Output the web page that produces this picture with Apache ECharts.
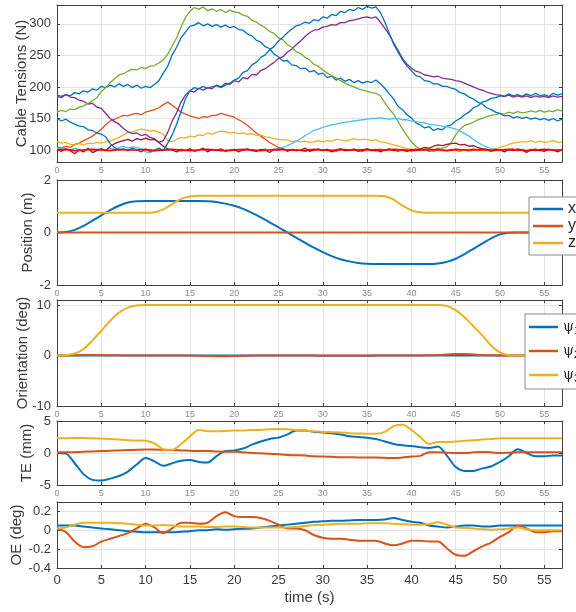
<!DOCTYPE html>
<html>
<head>
<meta charset="utf-8">
<script src="https://cdn.jsdelivr.net/npm/echarts@6/dist/echarts.min.js"></script>
<style>
  html, body { margin: 0; padding: 0; background: #fff; }
  #chart { width: 576px; height: 612px; }
</style>
</head>
<body>
<div id="chart"></div>
<script>
// ---- time bases ----
const TENSION_DT = 0.5;   // cable tension samples every 0.5 s
const POSE_DT = 1;        // pose / error samples every 1 s

// ---- axis ticks ----
const timeTicks = [0, 5, 10, 15, 20, 25, 30, 35, 40, 45, 50, 55];
const tensionTicks = [100, 150, 200, 250, 300];
const positionTicks = [-2, 0, 2];
const orientationTicks = [-10, 0, 10];
const teTicks = [-5, 0, 5];
const oeTicks = [-0.4, -0.2, 0, 0.2];

// ---- cable tensions (N), t = 0 .. 57 s step 0.5 s ----
const tension1 = [
  185,183,188,186,191,189,194,192,197,195,
  201,199,203,200,205,201,204,199,203,198,
  201,199,204,210,222,233,251,263,278,287,
  296,298,302,297,300,296,299,295,298,294,
  296,291,290,284,281,274,271,264,261,252,
  248,241,242,235,234,229,230,224,226,220,
  222,215,217,211,214,209,212,207,210,206,
  209,207,211,205,198,189,181,169,164,156,
  151,143,140,135,137,131,134,132,138,140,
  146,150,156,160,167,170,176,178,182,183,
  186,185,189,186,188,185,189,186,190,186,
  188,185,190,187,189];
const tension2 = [
  105,103,106,104,109,111,115,118,122,127,
  133,140,146,149,152,155,154,157,158,156,
  160,162,164,167,172,176,171,166,160,157,
  154,152,150,153,152,155,155,158,156,154,
  152,148,144,139,133,127,122,117,112,108,
  104,102,100,101,99,100,98,101,100,102,
  99,101,100,98,101,100,99,102,100,98,
  101,99,100,102,99,101,100,98,101,100,
  99,102,100,101,98,100,103,101,99,101,
  100,98,101,100,102,99,100,101,98,100,
  101,99,100,102,99,101,98,100,102,99,
  100,101,99,100,101];
const tension3 = [
  113,111,112,109,108,110,108,111,110,112,
  111,113,114,117,120,124,128,129,131,133,
  132,130,131,128,125,115,113,117,120,119,
  122,121,124,123,127,125,128,130,129,127,
  128,126,127,125,126,123,124,121,120,118,
  117,116,116,113,115,113,114,112,113,115,
  113,115,114,117,116,114,116,118,116,117,
  117,115,116,113,112,110,108,106,104,102,
  101,100,99,101,100,98,100,101,99,100,
  101,99,100,98,100,101,99,100,101,102,
  104,106,109,111,112,113,113,115,112,114,
  112,113,115,112,113];
const tension4 = [
  187,185,188,184,183,179,177,173,174,168,
  166,158,150,145,141,134,129,126,127,123,
  125,120,118,112,115,128,146,159,176,187,
  194,192,198,195,199,197,203,200,206,204,
  210,208,215,213,220,219,226,229,234,239,
  245,248,255,260,267,273,280,286,290,291,
  295,296,299,298,302,302,305,306,308,310,
  311,309,311,303,293,283,270,258,245,236,
  230,225,223,219,218,216,217,214,213,212,
  210,209,206,203,200,197,195,192,190,188,
  187,185,187,184,186,184,186,183,186,184,
  185,183,186,184,185];
const tension5 = [
  160,163,161,165,164,168,170,174,178,183,
  193,199,207,213,219,221,225,228,227,231,
  229,233,234,238,243,252,265,278,295,310,
  320,326,323,327,321,324,320,323,318,322,
  319,318,314,312,306,303,298,294,288,285,
  278,275,267,263,256,253,247,243,236,233,
  227,222,218,214,210,206,203,200,197,195,
  193,191,190,186,175,165,157,145,133,123,
  113,106,101,99,100,98,101,103,105,112,
  124,133,139,141,144,148,150,153,155,156,
  158,157,160,158,161,159,160,162,160,163,
  160,162,161,164,162];
const tension6 = [
  103,101,102,100,103,101,99,102,100,101,
  102,100,103,101,104,106,103,105,104,102,
  97,96,99,101,100,99,101,100,98,100,
  101,99,100,102,99,100,101,98,100,99,
  100,101,99,100,101,99,100,102,100,101,
  102,104,107,110,114,118,123,127,131,133,
  136,138,140,141,143,144,145,146,147,148,
  149,150,150,151,150,149,150,150,148,148,
  146,145,144,143,141,140,139,138,137,135,
  133,130,126,122,117,112,108,105,102,101,
  100,101,99,100,101,100,99,101,100,99,
  100,101,99,100,101];
const tension7 = [
  101,98,102,99,94,100,97,103,96,99,
  102,99,106,110,113,115,117,114,118,116,
  119,116,117,112,106,102,100,97,101,99,
  102,98,100,103,97,101,99,102,98,100,
  101,97,100,102,99,98,101,100,96,101,
  100,102,98,101,99,100,103,98,100,101,
  99,101,97,100,102,99,100,101,98,100,
  102,99,101,97,100,102,99,101,100,98,
  101,100,102,104,103,106,108,107,109,110,
  111,108,109,106,107,104,102,101,99,101,
  100,97,101,99,102,100,96,101,99,100,
  98,101,100,97,100];
const tension8 = [
  150,146,149,144,141,138,137,132,131,127,
  125,121,110,104,100,102,99,103,100,97,
  101,98,100,103,99,111,124,141,161,181,
  194,199,197,201,198,200,202,199,203,206,
  211,214,223,226,235,239,247,251,259,264,
  273,279,286,292,297,299,303,301,307,305,
  311,309,315,313,320,318,323,321,326,323,
  328,325,327,318,303,285,268,255,243,233,
  226,218,216,210,209,205,205,201,201,198,
  196,191,189,184,181,176,173,167,164,160,
  158,154,155,151,153,150,152,149,151,148,
  150,147,150,146,149];
// lower tension limit, t = 0 .. 57 s step 1 s
const tensionMin = [
  100,101,99,100,101,100,99,101,100,100,
  101,99,100,101,100,99,100,101,100,99,
  100,101,100,99,100,101,100,100,99,101,
  100,99,101,100,100,101,99,100,101,100,
  99,100,101,100,99,101,100,100,101,99,
  100,101,100,99,100,101,100,100];

// ---- position (m), t = 0 .. 57 s step 1 s ----
const posX = [
  0,0.02,0.1,0.25,0.45,0.65,0.85,1.02,1.14,1.19,
  1.2,1.2,1.2,1.2,1.2,1.2,1.2,1.19,1.16,1.1,
  1.02,0.9,0.75,0.58,0.39,0.2,0.0,-0.2,-0.39,-0.58,
  -0.75,-0.9,-1.02,-1.1,-1.16,-1.19,-1.2,-1.2,-1.2,-1.2,
  -1.2,-1.2,-1.2,-1.18,-1.12,-1.0,-0.82,-0.62,-0.42,-0.22,
  -0.07,-0.01,0,0,0,0,0,0];
const posY = [
  0,0,0,0,0,0,0,0,0,0,
  0,0,0,0,0,0,0,0,0,0,
  0,0,0,0,0,0,0,0,0,0,
  0,0,0,0,0,0,0,0,0,0,
  0,0,0,0,0,0,0,0,0,0,
  0,0,0,0,0,0,0,0];
const posZ = [
  0.75,0.75,0.75,0.75,0.75,0.75,0.75,0.75,0.75,0.75,
  0.75,0.77,0.88,1.08,1.28,1.37,1.4,1.4,1.4,1.4,
  1.4,1.4,1.4,1.4,1.4,1.4,1.4,1.4,1.4,1.4,
  1.4,1.4,1.4,1.4,1.4,1.4,1.4,1.38,1.25,1.02,
  0.85,0.77,0.75,0.75,0.75,0.75,0.75,0.75,0.75,0.75,
  0.75,0.75,0.75,0.75,0.75,0.75,0.75,0.75];

// ---- orientation (deg), t = 0 .. 57 s step 1 s ----
const psi1 = [
  0,0,0,0,0,0,0,0,0,0,
  0,0,0,0,0,0,0,0,0,0,
  0,0,0,0,0,0,0,0,0,0,
  -0.05,-0.05,-0.05,-0.05,-0.05,-0.05,0,0,0,0,
  0,0,0,0,0,0,0,0,0,0,
  0,0,0,0,0,0,0,0];
const psi2 = [
  0,0,0.05,0.1,0.1,0.1,0.05,0.05,0,0,
  0,0,0,0,0,0,-0.05,-0.1,-0.15,-0.15,
  -0.1,-0.05,0,0,0,0,0,0,0,0,
  0,0,0,0,0,0,0,0,0,0,
  0,0,0.05,0.1,0.2,0.3,0.3,0.2,0.1,0.05,
  0,0,0,0,0,0,0,0];
const psi3 = [
  0,0.05,0.4,1.3,3.0,4.9,6.9,8.5,9.5,9.9,
  10,10,10,10,10,10,10,10,10,10,
  10,10,10,10,10,10,10,10,10,10,
  10,10,10,10,10,10,10,10,10,10,
  10,10,10,10,9.8,9.0,7.6,5.8,4.0,2.0,
  0.6,0.05,0,0,0,0,0,0];

// ---- translational error (mm), t = 0 .. 57 s step 1 s ----
const teX = [
  0,-0.1,-1.6,-3.3,-4.2,-4.3,-4.0,-3.6,-2.9,-1.8,
  -0.8,-1.3,-2.0,-1.6,-1.2,-1.1,-1.4,-1.5,-0.5,0.3,
  0.4,0.7,1.3,1.8,2.2,2.4,2.9,3.5,3.5,3.3,
  3.2,3.1,2.9,2.6,2.5,2.4,2.2,1.8,1.4,1.2,
  1.1,0.9,0.8,1.0,-0.4,-2.2,-2.8,-2.8,-2.4,-2.1,
  -1.4,-0.5,0.6,0.0,-0.5,-0.5,-0.4,-0.4];
const teY = [
  0.1,0.1,0.15,0.2,0.25,0.3,0.35,0.4,0.45,0.5,
  0.55,0.55,0.5,0.45,0.4,0.35,0.3,0.3,0.25,0.2,
  0.2,0.1,0.0,-0.05,-0.1,-0.2,-0.3,-0.35,-0.4,-0.5,
  -0.55,-0.6,-0.65,-0.65,-0.7,-0.7,-0.7,-0.75,-0.8,-0.7,
  -0.55,-0.45,0.1,0.1,0.05,0.0,0.0,0.1,0.15,0.1,
  0.0,0.05,0.1,0.1,0.1,0.1,0.1,0.1];
const teZ = [
  2.3,2.3,2.35,2.35,2.3,2.25,2.2,2.1,2.0,1.95,
  1.9,1.5,0.6,0.5,1.4,2.6,3.6,3.4,3.4,3.45,
  3.5,3.5,3.6,3.6,3.7,3.75,3.7,3.6,3.5,3.4,
  3.3,3.25,3.2,3.1,3.05,3.0,3.0,3.3,4.2,4.4,
  3.6,2.5,1.4,1.7,1.7,1.8,1.9,2.0,2.1,2.2,
  2.3,2.3,2.3,2.3,2.3,2.3,2.3,2.3];

// ---- orientation error (deg), t = 0 .. 57 s step 1 s ----
const oe1 = [
  0.05,0.05,0.05,0.04,0.03,0.02,0.01,0.0,-0.01,-0.015,
  -0.02,-0.02,-0.02,-0.02,-0.015,-0.01,0.0,0.0,0.01,0.005,
  0.01,0.015,0.02,0.03,0.04,0.05,0.06,0.07,0.08,0.09,
  0.095,0.1,0.1,0.105,0.11,0.11,0.11,0.115,0.13,0.11,
  0.09,0.08,0.05,0.04,0.03,0.04,0.05,0.05,0.04,0.04,
  0.05,0.05,0.05,0.05,0.05,0.05,0.05,0.05];
const oe2 = [
  0.02,-0.02,-0.12,-0.18,-0.17,-0.12,-0.09,-0.06,-0.03,0.02,
  0.07,0.03,-0.03,0.02,0.08,0.08,0.07,0.08,0.15,0.19,
  0.15,0.14,0.14,0.13,0.1,0.06,0.02,0.02,0.0,-0.05,
  -0.08,-0.09,-0.09,-0.1,-0.11,-0.11,-0.11,-0.14,-0.16,-0.14,
  -0.11,-0.11,-0.12,-0.12,-0.19,-0.26,-0.27,-0.22,-0.17,-0.13,
  -0.07,-0.02,0.05,0.02,-0.02,-0.02,-0.01,-0.01];
const oe3 = [
  0.02,0.03,0.06,0.08,0.08,0.08,0.08,0.075,0.07,0.06,
  0.05,0.05,0.055,0.05,0.04,0.04,0.04,0.035,0.035,0.04,
  0.04,0.035,0.03,0.03,0.03,0.03,0.03,0.035,0.045,0.055,
  0.06,0.065,0.07,0.07,0.07,0.075,0.075,0.075,0.07,0.065,
  0.06,0.06,0.065,0.085,0.06,0.03,0.025,0.02,0.01,0.005,
  0.01,0.02,0.03,0.01,0.0,0.0,0.0,0.0];

// ---- styling ----
const FONT = '"Liberation Sans", Arial, Helvetica, sans-serif';
const AXIS_COLOR = '#404040';
const GRID_COLOR = '#e4e4e4';
const LABEL_COLOR = '#3a3a3a';
const SMALL_LABEL_COLOR = '#8c8c8c';
const COLORS = {
  blue: '#0072BD', orange: '#D95319', yellow: '#EDB120', purple: '#7E2F8E',
  green: '#77AC30', cyan: '#4DBEEE', maroon: '#A2142F', red: '#FF0000'
};

const panels = [
  { top: 5,   height: 157, min: 81,   max: 330, ticks: tensionTicks,     name: 'Cable Tensions (N)', nameGap: 28 },
  { top: 180, height: 105, min: -2,   max: 2,   ticks: positionTicks,    name: 'Position (m)',       nameGap: 22 },
  { top: 300, height: 106, min: -10,  max: 11,  ticks: orientationTicks, name: 'Orientation (deg)',  nameGap: 27 },
  { top: 421, height: 64,  min: -5,   max: 5,   ticks: teTicks,          name: 'TE (mm)',            nameGap: 23 },
  { top: 502, height: 66,  min: -0.4, max: 0.3, ticks: oeTicks,          name: 'OE (deg)',           nameGap: 33 }
];

const grid = [], xAxis = [], yAxis = [];
const axisLine = { show: true, onZero: false, lineStyle: { color: AXIS_COLOR, width: 1 } };
panels.forEach((p, i) => {
  const last = i === panels.length - 1;
  grid.push({ left: 57, right: 14, top: p.top, height: p.height, containLabel: false, outerBoundsMode: 'none' });
  xAxis.push({
    gridIndex: i, type: 'value', min: 0, max: 57, position: 'bottom',
    axisLine,
    axisTick: { show: true, inside: true, length: 3, customValues: timeTicks, lineStyle: { color: AXIS_COLOR } },
    axisLabel: {
      show: true, customValues: timeTicks, fontFamily: FONT,
      fontSize: last ? 13 : 9, color: last ? LABEL_COLOR : SMALL_LABEL_COLOR, margin: last ? 6 : 4
    },
    splitLine: { show: true, lineStyle: { color: GRID_COLOR, width: 1 } },
    name: last ? 'time (s)' : '', nameLocation: 'middle', nameGap: 22, nameMoveOverlap: false,
    nameTextStyle: { fontSize: 15, color: LABEL_COLOR, fontFamily: FONT }
  });
  xAxis.push({
    gridIndex: i, type: 'value', min: 0, max: 57, position: 'top',
    axisLine,
    axisTick: { show: true, inside: true, length: 3, customValues: timeTicks, lineStyle: { color: AXIS_COLOR } },
    axisLabel: { show: false }, splitLine: { show: false }
  });
  yAxis.push({
    gridIndex: i, type: 'value', min: p.min, max: p.max, position: 'left',
    axisLine,
    axisTick: { show: true, inside: true, length: 3, customValues: p.ticks, lineStyle: { color: AXIS_COLOR } },
    axisLabel: { show: true, customValues: p.ticks, fontFamily: FONT, fontSize: 13, color: LABEL_COLOR, margin: 6 },
    splitLine: { show: true, lineStyle: { color: GRID_COLOR, width: 1 } },
    name: p.name, nameLocation: 'middle', nameGap: p.nameGap, nameMoveOverlap: false,
    nameTextStyle: { fontSize: 15, color: LABEL_COLOR, fontFamily: FONT }
  });
  yAxis.push({
    gridIndex: i, type: 'value', min: p.min, max: p.max, position: 'right',
    axisLine,
    axisTick: { show: true, inside: true, length: 3, customValues: p.ticks, lineStyle: { color: AXIS_COLOR } },
    axisLabel: { show: false }, splitLine: { show: false }
  });
});

function line(name, color, values, dt, panel, width, smooth) {
  return {
    name, type: 'line', xAxisIndex: 2 * panel, yAxisIndex: 2 * panel,
    data: values.map((v, k) => [k * dt, v]),
    showSymbol: false, symbol: 'none', smooth: smooth || false,
    lineStyle: { color, width }, itemStyle: { color },
    silent: true, z: 3
  };
}

const series = [
  line('T1', COLORS.blue,   tension1, TENSION_DT, 0, 1.3),
  line('T2', COLORS.orange, tension2, TENSION_DT, 0, 1.3),
  line('T3', COLORS.yellow, tension3, TENSION_DT, 0, 1.3),
  line('T4', COLORS.purple, tension4, TENSION_DT, 0, 1.3),
  line('T5', COLORS.green,  tension5, TENSION_DT, 0, 1.3),
  line('T6', COLORS.cyan,   tension6, TENSION_DT, 0, 1.3),
  line('T7', COLORS.maroon, tension7, TENSION_DT, 0, 1.3),
  line('T8', COLORS.blue,   tension8, TENSION_DT, 0, 1.3),
  line('Tmin', COLORS.red,  tensionMin, POSE_DT, 0, 1.6),

  line('x', COLORS.blue,   posX, POSE_DT, 1, 2, 0.3),
  line('y', COLORS.orange, posY, POSE_DT, 1, 2),
  line('z', COLORS.yellow, posZ, POSE_DT, 1, 2, 0.3),

  line('ψ1', COLORS.blue,   psi1, POSE_DT, 2, 2, 0.3),
  line('ψ2', COLORS.orange, psi2, POSE_DT, 2, 2, 0.3),
  line('ψ3', COLORS.yellow, psi3, POSE_DT, 2, 2, 0.3),

  line('TEx', COLORS.blue,   teX, POSE_DT, 3, 2, 0.3),
  line('TEy', COLORS.orange, teY, POSE_DT, 3, 2, 0.3),
  line('TEz', COLORS.yellow, teZ, POSE_DT, 3, 2, 0.3),

  line('OE1', COLORS.blue,   oe1, POSE_DT, 4, 2, 0.3),
  line('OE2', COLORS.orange, oe2, POSE_DT, 4, 2, 0.3),
  line('OE3', COLORS.yellow, oe3, POSE_DT, 4, 2, 0.3)
];

const legendBase = {
  orient: 'vertical', icon: 'rect', selectedMode: false,
  backgroundColor: '#ffffff', borderColor: '#8a8a8a', borderWidth: 1, borderRadius: 0,
  itemHeight: 2.5
};

const option = {
  animation: false,
  backgroundColor: '#ffffff',
  grid, xAxis, yAxis, series,
  legend: [
    Object.assign({}, legendBase, {
      data: ['x', 'y', 'z'], left: 529, top: 197,
      padding: [4, 6, 4, 4], itemGap: 1, itemWidth: 30, itemTextGap: 4,
      textStyle: { fontFamily: FONT, fontSize: 16, lineHeight: 14, color: '#262626' }
    }),
    Object.assign({}, legendBase, {
      data: ['ψ1', 'ψ2', 'ψ3'], left: 525, top: 314,
      padding: [4, 6, 5, 4], itemGap: 6, itemWidth: 29, itemTextGap: 0,
      formatter: name => '{p|ψ}{s|' + name.slice(1) + '}',
      textStyle: {
        fontFamily: FONT, color: '#262626',
        rich: {
          p: { fontSize: 14, lineHeight: 19, fontFamily: '"DejaVu Serif", serif', color: '#262626' },
          s: { fontSize: 11, lineHeight: 19, padding: [7, 0, 0, 0], fontFamily: FONT, color: '#262626' }
        }
      }
    })
  ]
};

const chart = echarts.init(document.getElementById('chart'), null, { renderer: 'canvas' });
chart.setOption(option);
</script>
</body>
</html>
